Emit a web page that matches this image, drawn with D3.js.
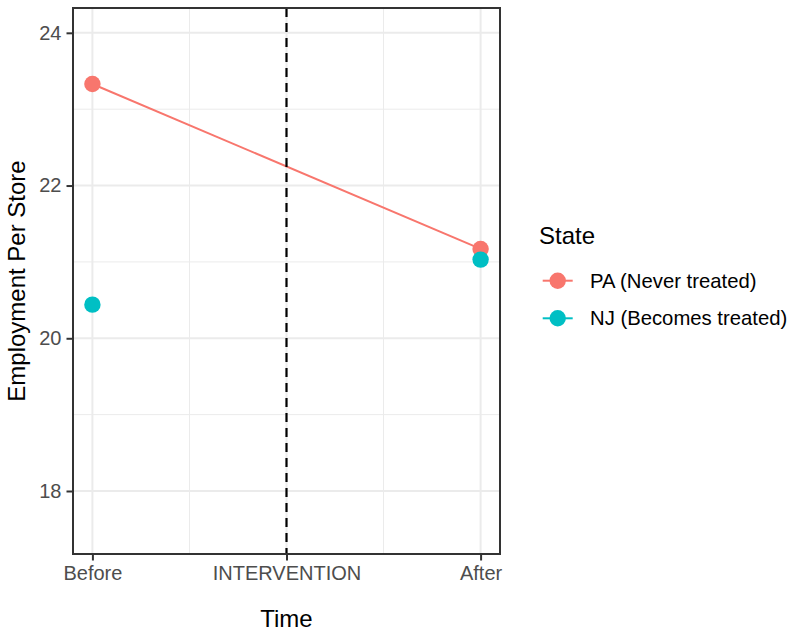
<!DOCTYPE html>
<html>
<head>
<meta charset="utf-8">
<script src="https://cdn.jsdelivr.net/npm/d3@7"></script>
<style>
  html, body { margin: 0; padding: 0; background: #ffffff; }
  svg { display: block; font-family: "Liberation Sans", Arial, Helvetica, sans-serif; }
</style>
</head>
<body>
<svg id="chart" width="792" height="633"></svg>
<script>
// ---- data ----
const timeBreaks = [0, 0.5, 1];
const timeLabels = ["Before", "INTERVENTION", "After"];
const timeMinor = [0.25, 0.75];
const obsTimes = [0, 1];
const paValues = [23.33, 21.17];
const njValues = [20.44, 21.03];
const seriesNames = ["PA (Never treated)", "NJ (Becomes treated)"];
const seriesColors = ["#F8766D", "#00BFC4"];
const interventionTime = 0.5;
const yLimits = [17.5, 24];
const yBreaks = [18, 20, 22, 24];
const yMinor = [19, 21, 23];

// ---- layout ----
const svg = d3.select("#chart");
const W = 792, H = 633;
const panel = { left: 73, right: 500, top: 8, bottom: 554 };

svg.append("rect").attr("width", W).attr("height", H).attr("fill", "#ffffff");

function expand(lim, m) { const d = (lim[1] - lim[0]) * m; return [lim[0] - d, lim[1] + d]; }

const x = d3.scaleLinear().domain(expand([0, 1], 0.05)).range([panel.left, panel.right]);
const y = d3.scaleLinear().domain(expand(yLimits, 0.05)).range([panel.bottom, panel.top]);

const g = svg.append("g");

// grid minor
g.selectAll("line.yminor").data(yMinor).join("line")
  .attr("x1", panel.left).attr("x2", panel.right)
  .attr("y1", d => y(d)).attr("y2", d => y(d))
  .attr("stroke", "#EBEBEB").attr("stroke-width", 1);
g.selectAll("line.xminor").data(timeMinor).join("line")
  .attr("y1", panel.top).attr("y2", panel.bottom)
  .attr("x1", d => x(d)).attr("x2", d => x(d))
  .attr("stroke", "#EBEBEB").attr("stroke-width", 1);
// grid major
g.selectAll("line.ymajor").data(yBreaks).join("line")
  .attr("x1", panel.left).attr("x2", panel.right)
  .attr("y1", d => y(d)).attr("y2", d => y(d))
  .attr("stroke", "#EBEBEB").attr("stroke-width", 2);
g.selectAll("line.xmajor").data(timeBreaks).join("line")
  .attr("y1", panel.top).attr("y2", panel.bottom)
  .attr("x1", d => x(d)).attr("x2", d => x(d))
  .attr("stroke", "#EBEBEB").attr("stroke-width", 2);

// PA line
const paData = obsTimes.map((t, i) => ({ t, v: paValues[i] }));
const njData = obsTimes.map((t, i) => ({ t, v: njValues[i] }));
const lineGen = d3.line().x(d => x(d.t)).y(d => y(d.v));
g.append("path").datum(paData).attr("d", lineGen)
  .attr("fill", "none").attr("stroke", seriesColors[0]).attr("stroke-width", 2);

// intervention dashed line
g.append("line")
  .attr("x1", x(interventionTime)).attr("x2", x(interventionTime))
  .attr("y1", panel.top).attr("y2", panel.bottom)
  .attr("stroke", "#000").attr("stroke-width", 2.2)
  .attr("stroke-dasharray", "9,6");

// points
[paData, njData].forEach((data, si) => {
  g.selectAll(null).data(data).join("circle")
    .attr("cx", d => x(d.t)).attr("cy", d => y(d.v)).attr("r", 8.2)
    .attr("fill", seriesColors[si]);
});

// panel border
g.append("rect")
  .attr("x", panel.left).attr("y", panel.top)
  .attr("width", panel.right - panel.left).attr("height", panel.bottom - panel.top)
  .attr("fill", "none").attr("stroke", "#333333").attr("stroke-width", 2);

// axes
const yAxis = d3.axisLeft(y).tickValues(yBreaks).tickSize(6.5).tickPadding(5).tickFormat(d3.format("d"));
const ya = svg.append("g").attr("transform", `translate(${panel.left},0)`).call(yAxis);
ya.select(".domain").remove();
ya.selectAll(".tick line").attr("stroke", "#333333").attr("stroke-width", 2);
ya.selectAll(".tick text").attr("fill", "#4D4D4D").attr("font-size", 20)
  .attr("font-family", "Liberation Sans, Arial, sans-serif");

const xAxis = d3.axisBottom(x).tickValues(timeBreaks).tickSize(6.5).tickPadding(5)
  .tickFormat((d, i) => timeLabels[i]);
const xa = svg.append("g").attr("transform", `translate(0,${panel.bottom})`).call(xAxis);
xa.select(".domain").remove();
xa.selectAll(".tick line").attr("stroke", "#333333").attr("stroke-width", 2);
xa.selectAll(".tick text").attr("fill", "#4D4D4D").attr("font-size", 20)
  .attr("font-family", "Liberation Sans, Arial, sans-serif").attr("dy", null).attr("y", 26);

// axis titles
svg.append("text").attr("x", (panel.left + panel.right) / 2).attr("y", 627)
  .attr("text-anchor", "middle").attr("font-size", 24).attr("fill", "#000").text("Time");
svg.append("text")
  .attr("transform", `translate(25,${(panel.top + panel.bottom) / 2}) rotate(-90)`)
  .attr("text-anchor", "middle").attr("font-size", 24).attr("fill", "#000").text("Employment Per Store");

// legend
const leg = svg.append("g");
leg.append("text").attr("x", 539).attr("y", 244).attr("font-size", 24).attr("fill", "#000").text("State");
const keyY = [280.7, 318.3];
seriesNames.forEach((name, i) => {
  leg.append("line").attr("x1", 542.7).attr("x2", 572.7).attr("y1", keyY[i]).attr("y2", keyY[i])
    .attr("stroke", seriesColors[i]).attr("stroke-width", 2);
  leg.append("circle").attr("cx", 557.7).attr("cy", keyY[i]).attr("r", 8.2).attr("fill", seriesColors[i]);
  leg.append("text").attr("x", 590).attr("y", keyY[i]).attr("dy", "0.35em")
    .attr("font-size", 20.3).attr("fill", "#000").text(name);
});
</script>
</body>
</html>
